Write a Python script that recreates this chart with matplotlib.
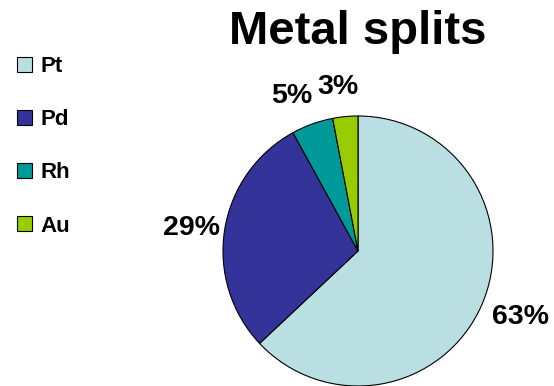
import matplotlib
matplotlib.use("Agg")
import matplotlib.pyplot as plt
import matplotlib.transforms as mtransforms
from matplotlib.patches import Patch

# Datos del gráfico
metales = ["Pt", "Pd", "Rh", "Au"]
porcentajes = [63, 29, 5, 3]
colores = ["#B9DFE2", "#333399", "#009999", "#99CC00"]

plt.rcParams["font.family"] = ["Liberation Sans", "DejaVu Sans"]
plt.rcParams["font.weight"] = "bold"

fig = plt.figure(figsize=(5.54, 3.86), dpi=100)
ax = fig.add_axes([0.4025, 0.0, 0.4874, 0.6995])

cuñas, textos, pcts = ax.pie(
    porcentajes, colors=colores, startangle=90, counterclock=False,
    autopct="%1.0f%%", pctdistance=1.27,
    wedgeprops=dict(edgecolor="black", linewidth=0.8),
    textprops=dict(fontsize=20.5, fontweight="bold", color="black"),
)
ax.set_xlim(-1, 1)
ax.set_ylim(-1, 1)
ax.set_aspect("equal")

# Pequeños ajustes (en puntos) para que las etiquetas queden como en Excel
ajustes = [(3.6, 1.4), (1.8, -2.9), (-6, -4.6), (-2.8, -4.6)]
for t, (dx, dy) in zip(pcts, ajustes):
    t.set_transform(mtransforms.offset_copy(t.get_transform(), fig=fig, x=dx, y=dy, units="points"))

# Título
fig.text(0.646, 0.886, "Metal splits", ha="center", va="baseline",
         fontsize=34, fontweight="bold")

# Leyenda a la izquierda
manijas = [Patch(facecolor=c, edgecolor="black", linewidth=0.8) for c in colores]
fig.legend(manijas, metales, loc="upper left", bbox_to_anchor=(0.031, 0.855),
           frameon=False, handlelength=0.65, handleheight=0.65,
           handletextpad=0.4, labelspacing=1.45, borderpad=0, borderaxespad=0,
           prop=dict(weight="bold", size=16))

fig.savefig("out.png", dpi=100)
